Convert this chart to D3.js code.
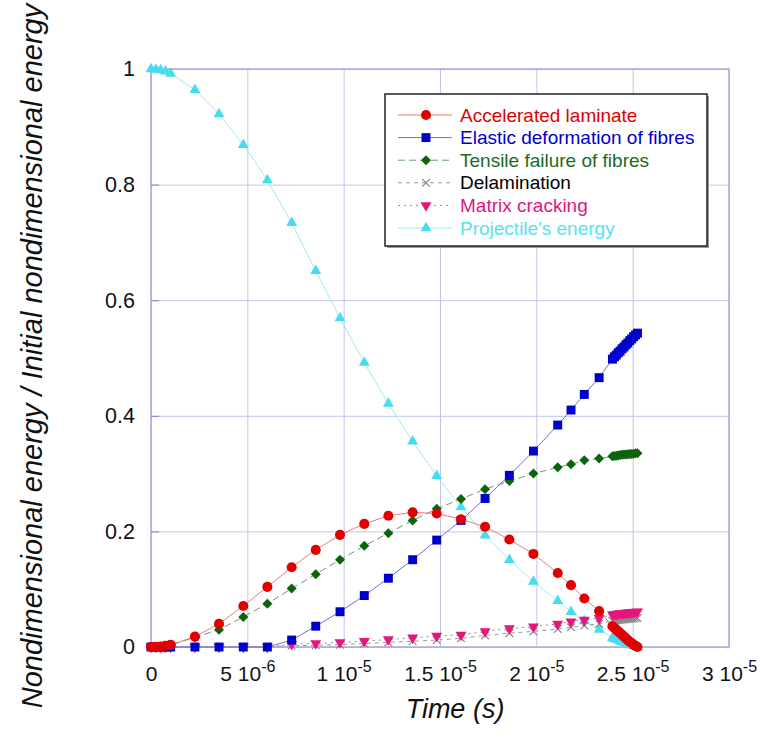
<!DOCTYPE html>
<html>
<head>
<meta charset="utf-8">
<script src="https://cdn.jsdelivr.net/npm/d3@7"></script>
<style>
  body { margin: 0; background: #fff; }
  text { font-family: 'Liberation Sans', Arial, sans-serif; }
</style>
</head>
<body>
<div id="graph-div"></div>
<script>
// time in microseconds
const times = [0, 0.25, 0.5, 0.75, 1.02, 2.28, 3.53, 4.79, 6.04, 7.3, 8.55, 9.81, 11.07, 12.32,
  13.58, 14.83, 16.09, 17.34, 18.6, 19.85, 21.11, 21.8, 22.49, 23.26,
  23.95, 24.05, 24.15, 24.25, 24.35, 24.45, 24.55, 24.65, 24.75, 24.85, 24.95, 25.05, 25.15, 25.25];

const accelerated = [0, 0.0005, 0.001, 0.002, 0.004, 0.018, 0.040, 0.071, 0.104, 0.138, 0.168, 0.194, 0.213, 0.227,
  0.233, 0.231, 0.221, 0.208, 0.186, 0.161, 0.128, 0.107, 0.084, 0.062,
  0.036, 0.033, 0.030, 0.027, 0.024, 0.021, 0.018, 0.015, 0.012, 0.009, 0.007, 0.004, 0.002, 0.0];

const elastic = [0, 0, 0, 0, 0, 0, 0, 0, 0, 0.012, 0.036, 0.061, 0.089, 0.119,
  0.151, 0.185, 0.219, 0.257, 0.297, 0.339, 0.384, 0.410, 0.437, 0.466,
  0.498, 0.502, 0.505, 0.509, 0.512, 0.516, 0.519, 0.523, 0.526, 0.530, 0.533, 0.537, 0.540, 0.543];

const tensile = [0, 0, 0.0005, 0.001, 0.003, 0.017, 0.030, 0.052, 0.075, 0.101, 0.126, 0.151, 0.175, 0.197,
  0.219, 0.239, 0.256, 0.273, 0.287, 0.300, 0.311, 0.316, 0.323, 0.326,
  0.330, 0.3305, 0.331, 0.3315, 0.332, 0.3325, 0.333, 0.333, 0.3335, 0.334, 0.334, 0.3345, 0.335, 0.335];

const delamination = [0, 0, 0, 0, 0, 0, 0, 0, 0, 0.002, 0.003, 0.004, 0.006, 0.008,
  0.010, 0.012, 0.015, 0.020, 0.024, 0.027, 0.031, 0.034, 0.037, 0.040,
  0.045, 0.0455, 0.046, 0.0465, 0.047, 0.0473, 0.0476, 0.048, 0.0483, 0.0486, 0.049, 0.0493, 0.0496, 0.050];

const matrix = [0, 0, 0, 0, 0, 0, 0, 0, 0, 0.005, 0.006, 0.008, 0.010, 0.013,
  0.016, 0.019, 0.021, 0.027, 0.032, 0.035, 0.040, 0.044, 0.047, 0.050,
  0.056, 0.0565, 0.057, 0.0575, 0.058, 0.0583, 0.0586, 0.059, 0.0593, 0.0596, 0.060, 0.0603, 0.0606, 0.061];

const projectile = [1.0, 0.999, 0.998, 0.996, 0.992, 0.964, 0.922, 0.869, 0.808, 0.734, 0.651, 0.569, 0.492, 0.421,
  0.356, 0.296, 0.242, 0.193, 0.151, 0.113, 0.080, 0.061, 0.045, 0.030,
  0.016, 0.014, 0.013, 0.012, 0.010, 0.009, 0.008, 0.007, 0.006, 0.004, 0.003, 0.002, 0.001, 0.0];

const xTicks = [0, 5, 10, 15, 20, 25, 30];
const xTickMantissa = ['0', '5 10', '1 10', '1.5 10', '2 10', '2.5 10', '3 10'];
const xTickExponent = ['', '-6', '-5', '-5', '-5', '-5', '-5'];
const yTicks = [0, 0.2, 0.4, 0.6, 0.8, 1];
const yTickLabels = ['0', '0.2', '0.4', '0.6', '0.8', '1'];

const w = 762;
const h = 753;
const plotLeft = 151, plotRight = 729, plotTop = 69, plotBottom = 647;

const seriesList = [
  {name: 'Accelerated laminate', values: accelerated, color: '#e00000', line: '#f07a7a', dash: null, symbol: d3.symbolCircle, size: 80, text: '#e00000'},
  {name: 'Elastic deformation of fibres', values: elastic, color: '#0000cc', line: '#7070dd', dash: null, symbol: d3.symbolSquare, size: 80, text: '#0000cc'},
  {name: 'Tensile failure of fibres', values: tensile, color: '#0d640d', line: '#6f9a6f', dash: '7,4', symbol: d3.symbolSquare, size: 50, rotate: 45, text: '#1c6b1c'},
  {name: 'Delamination', values: delamination, color: '#8a8a8a', line: '#9a9a9a', dash: '4,4', symbol: d3.symbolTimes, size: 40, text: '#000000', stroke: true},
  {name: 'Matrix cracking', values: matrix, color: '#e8157d', line: '#8a8a8a', dash: '2,4', symbol: d3.symbolTriangle, size: 52, rotate: 180, text: '#e0157f'},
  {name: "Projectile's energy", values: projectile, color: '#48dcee', line: '#9feaf3', dash: null, symbol: d3.symbolTriangle, size: 52, text: '#55e3f0'}
];

const svg = d3.select('#graph-div')
  .append('svg')
  .attr('width', w)
  .attr('height', h);

const xScale = d3.scaleLinear().domain([0, 30]).range([plotLeft, plotRight]);
const yScale = d3.scaleLinear().domain([0, 1]).range([plotBottom, plotTop]);

// grid
svg.append('g')
  .attr('transform', `translate(0, ${plotBottom})`)
  .call(d3.axisBottom(xScale).tickValues(xTicks).tickSize(-(plotBottom - plotTop)).tickFormat(''))
  .call(g => g.select('.domain').remove())
  .call(g => g.selectAll('line').attr('stroke', '#c4c4ea').attr('stroke-width', 1));

svg.append('g')
  .attr('transform', `translate(${plotLeft}, 0)`)
  .call(d3.axisLeft(yScale).tickValues(yTicks).tickSize(-(plotRight - plotLeft)).tickFormat(''))
  .call(g => g.select('.domain').remove())
  .call(g => g.selectAll('line').attr('stroke', '#c4c4ea').attr('stroke-width', 1));

// frame
svg.append('rect')
  .attr('x', plotLeft).attr('y', plotTop)
  .attr('width', plotRight - plotLeft).attr('height', plotBottom - plotTop)
  .attr('fill', 'none').attr('stroke', '#a8a8e0').attr('stroke-width', 1.5);

// x axis labels
const xAxis = svg.append('g')
  .attr('transform', `translate(0, ${plotBottom})`)
  .call(d3.axisBottom(xScale).tickValues(xTicks).tickSize(0).tickPadding(19).tickFormat(''))
  .call(g => g.select('.domain').remove());

xAxis.selectAll('.tick text').each(function (d, i) {
  const t = d3.select(this)
    .attr('font-size', 21)
    .attr('fill', '#111')
    .attr('font-family', "'Liberation Sans', Arial, sans-serif");
  t.append('tspan').text(xTickMantissa[i]);
  if (xTickExponent[i]) {
    t.append('tspan').attr('dy', -9).attr('font-size', 16).text(xTickExponent[i]);
  }
});

// y axis labels
svg.append('g')
  .attr('transform', `translate(${plotLeft}, 0)`)
  .call(d3.axisLeft(yScale).tickValues(yTicks).tickSize(8).tickPadding(8).tickFormat((d, i) => yTickLabels[i]))
  .call(g => g.select('.domain').remove())
  .call(g => g.selectAll('line').attr('stroke', '#8080c8').attr('transform', 'translate(8,0)'))
  .call(g => g.selectAll('text')
    .attr('font-size', 21.5)
    .attr('fill', '#111')
    .attr('font-family', "'Liberation Sans', Arial, sans-serif"));

// axis titles
svg.append('text')
  .attr('x', (plotLeft + plotRight) / 2 + 15)
  .attr('y', 718)
  .attr('text-anchor', 'middle')
  .attr('font-size', 27)
  .attr('font-style', 'italic')
  .attr('fill', '#111')
  .text('Time (s)');

svg.append('text')
  .attr('transform', 'translate(42, 356) rotate(-90)')
  .attr('text-anchor', 'middle')
  .attr('font-size', 29)
  .attr('font-style', 'italic')
  .attr('fill', '#111')
  .text('Nondimensional energy / Initial nondimensional energy');

// series lines and markers
const line = d3.line()
  .x((d, i) => xScale(times[i]))
  .y(d => yScale(d));

const drawOrder = [5, 3, 4, 2, 1, 0];

drawOrder.forEach(k => {
  const s = seriesList[k];
  svg.append('path')
    .datum(s.values)
    .attr('fill', 'none')
    .attr('stroke', s.line)
    .attr('stroke-width', 1)
    .attr('stroke-dasharray', s.dash)
    .attr('d', line);
});

drawOrder.forEach(k => {
  const s = seriesList[k];
  const sym = d3.symbol().type(s.symbol).size(s.size);
  svg.append('g')
    .selectAll('path')
    .data(s.values)
    .enter()
    .append('path')
    .attr('d', sym)
    .attr('transform', (d, i) => `translate(${xScale(times[i])}, ${yScale(d)})` + (s.rotate ? ` rotate(${s.rotate})` : ''))
    .attr('fill', s.stroke ? 'none' : s.color)
    .attr('stroke', s.stroke ? s.color : 'none')
    .attr('stroke-width', s.stroke ? 1.2 : 0);
});

// legend
const legX = 385, legY = 94, legW = 322, legH = 152;
const legend = svg.append('g');

legend.append('rect')
  .attr('x', legX + 2).attr('y', legY + 2)
  .attr('width', legW).attr('height', legH)
  .attr('fill', '#999');

legend.append('rect')
  .attr('x', legX).attr('y', legY)
  .attr('width', legW).attr('height', legH)
  .attr('fill', '#fff')
  .attr('stroke', '#222')
  .attr('stroke-width', 1.5);

const legendItems = legend.selectAll('.legendItem')
  .data(seriesList)
  .enter()
  .append('g')
  .attr('class', 'legendItem')
  .attr('transform', (d, i) => `translate(0, ${legY + 21 + i * 22.6})`);

legendItems.append('line')
  .attr('x1', legX + 13).attr('x2', legX + 67)
  .attr('stroke', d => d.line)
  .attr('stroke-width', 1)
  .attr('stroke-dasharray', d => d.dash);

legendItems.append('path')
  .attr('d', d => d3.symbol().type(d.symbol).size(d.size)())
  .attr('transform', d => `translate(${legX + 41}, 0)` + (d.rotate ? ` rotate(${d.rotate})` : ''))
  .attr('fill', d => d.stroke ? 'none' : d.color)
  .attr('stroke', d => d.stroke ? d.color : 'none')
  .attr('stroke-width', d => d.stroke ? 1.2 : 0);

legendItems.append('text')
  .attr('x', legX + 75)
  .attr('y', 0)
  .attr('dy', '0.35em')
  .attr('font-size', 19)
  .attr('fill', d => d.text)
  .text(d => d.name);
</script>
</body>
</html>
